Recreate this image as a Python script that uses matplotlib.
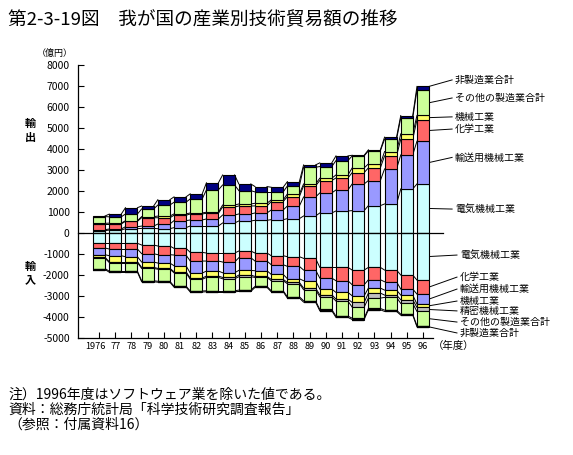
import numpy as np
import matplotlib
matplotlib.use('Agg')
import matplotlib.pyplot as plt
from matplotlib.transforms import ScaledTranslation

plt.rcParams['font.family'] = ['Noto Sans CJK JP', 'DejaVu Sans']

# ── data (億円) ──
years = ['1976', '77', '78', '79', '80', '81', '82', '83', '84', '85', '86',
         '87', '88', '89', '90', '91', '92', '93', '94', '95', '96']

# exports (輸出), bottom -> top
exp_elec   = [110, 140, 205, 220, 205, 255, 335, 335, 477, 572, 604, 636, 684, 811, 954, 1050, 1065, 1304, 1383, 2100, 2337]
exp_trans  = [50, 50, 95, 110, 220, 335, 285, 335, 380, 335, 350, 460, 605, 906, 954, 1000, 1272, 1193, 1670, 1620, 2035]
exp_chem   = [270, 240, 255, 400, 300, 255, 285, 270, 380, 380, 335, 400, 445, 525, 590, 572, 540, 604, 620, 747, 1018]
exp_mach   = [30, 40, 30, 50, 80, 65, 50, 50, 95, 95, 127, 80, 127, 95, 110, 143, 223, 190, 207, 255, 207]
exp_other  = [320, 300, 320, 365, 525, 555, 670, 1065, 955, 636, 540, 380, 380, 795, 556, 684, 572, 620, 590, 763, 1208]
exp_nonmfg = [30, 130, 300, 140, 255, 255, 240, 335, 477, 318, 255, 223, 207, 110, 175, 223, 30, 48, 95, 110, 175]

# imports (輸入), top -> bottom
imp_elec   = [-493, -493, -493, -572, -620, -731, -922, -954, -954, -859, -954, -1081, -1129, -1208, -1638, -1638, -1765, -1638, -1765, -2003, -2242]
imp_chem   = [-223, -270, -270, -413, -413, -318, -413, -382, -429, -318, -382, -429, -461, -556, -509, -636, -700, -588, -556, -668, -668]
imp_trans  = [-318, -318, -366, -398, -398, -509, -572, -477, -509, -604, -461, -461, -588, -509, -525, -556, -525, -398, -398, -286, -477]
imp_mach   = [-127, -286, -238, -254, -254, -286, -238, -238, -223, -223, -270, -238, -175, -350, -270, -318, -318, -238, -238, -223, -159]
imp_prec   = [-40, -40, -40, -50, -40, -50, -60, -64, -64, -80, -48, -64, -64, -80, -95, -95, -223, -238, -111, -175, -191]
imp_other  = [-493, -413, -413, -588, -572, -636, -556, -636, -572, -636, -429, -477, -620, -525, -604, -715, -525, -493, -604, -509, -684]
imp_nonmfg = [-48, -48, -48, -48, -48, -48, -48, -48, -48, -64, -48, -48, -64, -64, -64, -64, -64, -64, -64, -48, -48]

C_ELEC, C_TRANS, C_CHEM = '#CCFFFF', '#9999FF', '#FF6666'
C_MACH, C_PREC, C_OTHER, C_NON = '#FFFF66', '#C0C0C0', '#CCFF99', '#000080'

exp_series = [(exp_elec, C_ELEC), (exp_trans, C_TRANS), (exp_chem, C_CHEM),
              (exp_mach, C_MACH), (exp_other, C_OTHER), (exp_nonmfg, C_NON)]
imp_series = [(imp_elec, C_ELEC), (imp_chem, C_CHEM), (imp_trans, C_TRANS),
              (imp_mach, C_MACH), (imp_prec, C_PREC), (imp_other, C_OTHER),
              (imp_nonmfg, C_NON)]

exp_labels = ['電気機械工業', '輸送用機械工業', '化学工業', '機械工業',
              'その他の製造業合計', '非製造業合計']
exp_label_y = [1140, 3600, 4950, 5530, 6430, 7290]
imp_labels = ['電気機械工業', '化学工業', '輸送用機械工業', '機械工業',
              '精密機械工業', 'その他の製造業合計', '非製造業合計']
imp_label_y = [-1050, -2100, -2670, -3240, -3710, -4240, -4760]

W = 0.74
x = np.arange(len(years))

fig = plt.figure(figsize=(5.73, 4.55), dpi=100)
ax = fig.add_axes([78/573, 1 - 338/455, 355/573, 273/455])


def stack(series):
    bottom = np.zeros(len(x))
    mids, bounds = [], []
    for vals, col in series:
        vals = np.array(vals, dtype=float)
        ax.bar(x, vals, W, bottom=bottom, color=col, edgecolor='black',
               linewidth=0.8, zorder=3)
        mids.append(bottom[-1] + vals[-1] / 2)
        bottom = bottom + vals
        bounds.append(bottom.copy())
    # series lines between neighbouring bars
    for b in bounds:
        for i in range(len(x) - 1):
            ax.plot([x[i] + W/2, x[i+1] - W/2], [b[i], b[i+1]],
                    color='black', lw=0.7, zorder=2)
    return mids, bottom


exp_mids, exp_top = stack(exp_series)
imp_mids, imp_bot = stack(imp_series)
# thick bottom edge of imports
ax.bar(x, 0, W, bottom=imp_bot, edgecolor='black', linewidth=1.6, zorder=4)

# zero line running past the last bar
ax.plot([-1.3, 21.23], [0, 0], color='black', lw=0.9, zorder=5, clip_on=False)

ax.set_xlim(-1.3, 20.62)
ax.set_ylim(-5000, 8000)
ax.set_xticks(x)
ax.set_xticklabels(years)
ax.set_yticks(np.arange(-5000, 8001, 1000))
ax.set_yticklabels([str(v) for v in range(-5000, 8001, 1000)])
ax.tick_params(axis='x', direction='in', length=4, width=0.8, labelsize=6.6, pad=3)
ax.tick_params(axis='y', direction='in', length=4, width=0.8, labelsize=7.5, pad=6)
lab0 = ax.get_xticklabels()[0]
lab0.set_transform(lab0.get_transform() + ScaledTranslation(-2.5/72, 0, fig.dpi_scale_trans))
for s in ['top', 'right']:
    ax.spines[s].set_visible(False)
for s in ['left', 'bottom']:
    ax.spines[s].set_linewidth(0.9)

# right-side labels with leader lines
xr = x[-1] + W/2
exp_mids[-1] = exp_top[-1]
for lab, m, ly in zip(exp_labels, exp_mids, exp_label_y):
    ax.plot([xr, 21.8], [m, ly], color='black', lw=0.7, clip_on=False)
    ax.text(21.98, ly, lab, fontsize=7.2, va='center', ha='left', clip_on=False)
imp_mids[-1] = imp_bot[-1]
for lab, m, ly in zip(imp_labels, imp_mids, imp_label_y):
    ax.plot([xr, 22.1], [m, ly], color='black', lw=0.7, clip_on=False)
    ax.text(22.28, ly, lab, fontsize=7.2, va='center', ha='left', clip_on=False)

# texts
fig.text(8/573, 1 - 20/455, '第2-3-19図　我が国の産業別技術貿易額の推移',
         fontsize=13.4, va='center', ha='left')
fig.text(55/573, 1 - 53/455, '（億円）', fontsize=6.5, va='center', ha='center')
fig.text(30/573, 1 - 130/455, '輸\n出', fontsize=8, va='center', ha='center',
         linespacing=1.1, weight='bold')
fig.text(30/573, 1 - 273/455, '輸\n入', fontsize=8, va='center', ha='center',
         linespacing=1.1, weight='bold')
fig.text(454/573, 1 - 346/455, '（年度）', fontsize=7.5, va='center', ha='center')

notes = ['注）1996年度はソフトウェア業を除いた値である。',
         '資料：総務庁統計局「科学技術研究調査報告」',
         '（参照：付属資料16）']
for k, t in enumerate(notes):
    fig.text(8/573, 1 - (395 + 15*k)/455, t, fontsize=10, va='center', ha='left')

fig.savefig('out.png', dpi=100)
